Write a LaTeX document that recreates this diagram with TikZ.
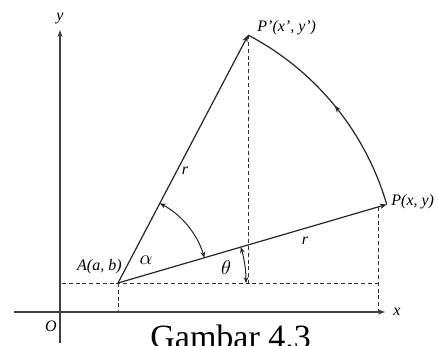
\documentclass[tikz,border=0pt]{standalone}
\usepackage{fontspec}
\setmainfont{Liberation Serif}
\usetikzlibrary{arrows.meta,calc,decorations.markings}
\begin{document}
\begin{tikzpicture}[x=0.5pt, y=0.5pt,
    axis/.style={draw=black!75, line width=0.55pt, -{Stealth[length=3.5pt,width=2.6pt]}},
    ray/.style={draw=black!85, line width=0.6pt, -{Stealth[length=3.5pt,width=2.6pt]}},
    guide/.style={draw=black!80, line width=0.5pt, dash pattern=on 2pt off 1.4pt},
    angarc/.style={draw=black!85, line width=0.5pt,
      {Stealth[length=3pt,width=2.4pt]}-{Stealth[length=3pt,width=2.4pt]}},
    midarrow/.style={decoration={markings,
      mark=at position 0.5 with {\arrow{Stealth[length=3.5pt,width=2.6pt]}}},
      postaction={decorate}},
    lbl/.style={font=\fontsize{8}{9}\selectfont\itshape, inner sep=0pt},
    greek/.style={font=\fontsize{10}{11}\selectfont, inner sep=0pt}]
  \useasboundingbox (0,0) rectangle (438,345);

  % Axes
  \coordinate (O)  at (60,33);
  \coordinate (xl) at (14,33);
  \coordinate (xr) at (385,33);
  \coordinate (yb) at (60,2);
  \coordinate (yt) at (60,315);
  \draw[axis] (xl) -- (xr);
  \draw[axis] (yb) -- (yt);
  \node[lbl] (ylab) at (60,326) {y};
  \node[lbl] (xlab) at (397,33) {x};
  \node[lbl] (olab) at (51,19) {O};

  % Centre of rotation and the two points
  \coordinate (A)  at (118,62);
  \coordinate (P)  at ($(A)+(16.3:280)$);
  \coordinate (Pp) at ($(A)+(62.3:280)$);
  \draw[ray] (A) -- (P);
  \draw[ray] (A) -- (Pp);
  \draw[draw=black!85, line width=0.6pt, midarrow] (P) arc[start angle=16.3, end angle=62.3, radius=280];

  % Dashed guides
  \coordinate (hl) at (62,62);
  \coordinate (Qt) at (378,138);
  \coordinate (Qm) at (378,62);
  \coordinate (Qb) at (378,33);
  \draw[guide] (hl) -- (Qm);
  \draw[guide] (A) -- (A |- O);
  \draw[guide] (Pp) -- (Pp |- A);
  \draw[guide] (Qt) -- (Qb);

  % Angles
  \coordinate (a1) at ($(A)+(16.3:90)$);
  \coordinate (t0) at ($(A)+(0:128)$);
  \draw[angarc] (a1) arc[start angle=16.3, end angle=62.3, radius=90];
  \draw[angarc] (t0) arc[start angle=0, end angle=16.3, radius=128];

  % Labels
  \node[lbl, anchor=east] (Alab) at (122,78) {A(a, b)};
  \node[lbl, anchor=west] (Plab) at (391,143) {P(x, y)};
  \node[lbl, anchor=west] (Pplab) at (257,317) {P'(x', y')};
  \node[lbl] (r1) at (185,174) {r};
  \node[lbl] (r2) at (305,104) {r};
  \node[greek] (alab) at (146,85) {\(\alpha\)};
  \node[greek] (tlab) at (226,77) {\(\theta\)};

  % Caption
  \node[font=\fontsize{17}{20}\selectfont, inner sep=0pt, anchor=base west] (cap) at (150,-3) {Gambar 4.3};
\end{tikzpicture}
\end{document}
